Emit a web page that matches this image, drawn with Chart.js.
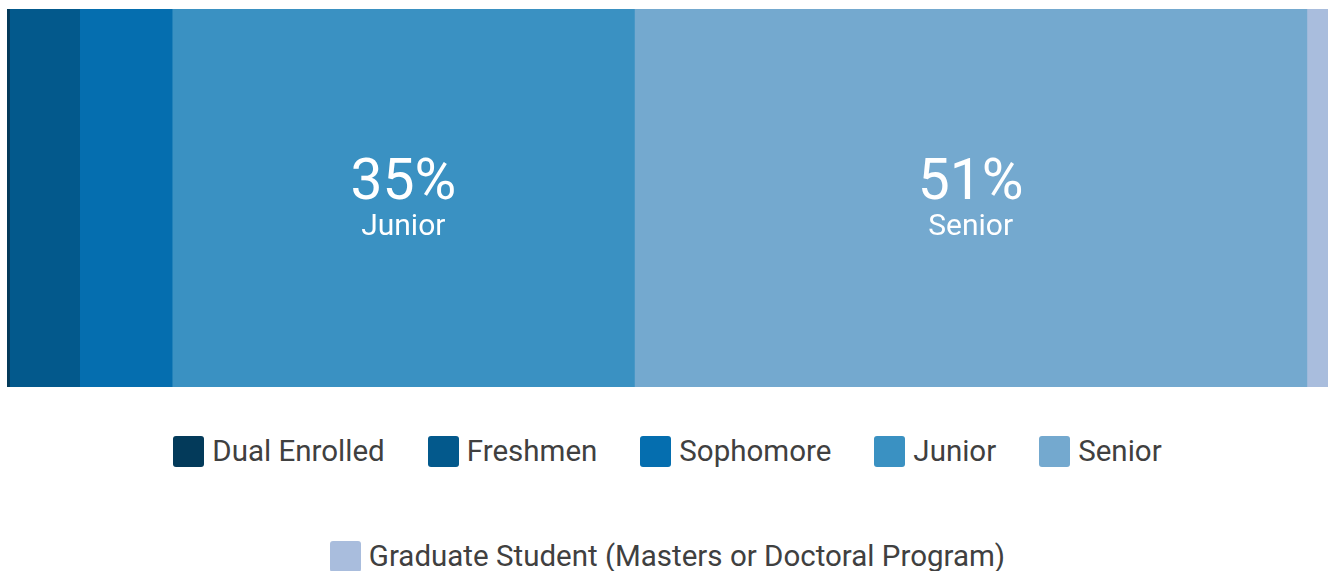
<!DOCTYPE html>
<html>
<head>
<meta charset="utf-8">
<script src="https://cdn.jsdelivr.net/npm/chart.js@4/dist/chart.umd.min.js"></script>
<style>
  html, body { margin: 0; padding: 0; background: #fff; }
  #wrap { position: relative; width: 1328px; height: 571px; overflow: hidden; }
  #chartBox { position: absolute; left: 0; top: 0; width: 1328px; height: 387px; }
  #legend {
    position: absolute; left: 7px; top: 436px; width: 1321px;
    display: flex; flex-wrap: wrap; justify-content: center;
    column-gap: 43px; row-gap: 74px;
    font-family: Roboto, sans-serif; font-size: 29.5px; color: #404040;
  }
  .item { display: flex; align-items: center; height: 31px; line-height: 31px; white-space: nowrap; }
  .swatch { width: 31px; height: 31px; border-radius: 3px; margin-right: 8px; }
</style>
</head>
<body>
<div id="wrap">
  <div id="chartBox"><canvas id="classChart"></canvas></div>
  <div id="legend"></div>
</div>
<script>
// class standing, share of respondents (%)
const categories = ['Dual Enrolled', 'Freshmen', 'Sophomore', 'Junior', 'Senior', 'Graduate Student (Masters or Doctoral Program)'];
const shortNames = ['Dual Enrolled', 'Freshmen', 'Sophomore', 'Junior', 'Senior', 'Graduate Student'];
const shares = [0.2, 5.3, 7.0, 35.0, 50.9, 1.6];
const colors = ['#033a5a', '#03598c', '#056eaf', '#3a91c2', '#74a9cf', '#a9bddd'];

const datasets = categories.map((name, i) => ({
    label: name,
    data: [shares[i]],
    backgroundColor: colors[i],
    borderWidth: 0,
    barPercentage: 1,
    categoryPercentage: 1
}));

// percentage + name written inside the big segments
const segmentLabels = {
    id: 'segmentLabels',
    afterDatasetsDraw(chart) {
        const ctx = chart.ctx;
        chart.data.datasets.forEach((ds, i) => {
            const v = ds.data[0];
            if (v < 10) return;
            const bar = chart.getDatasetMeta(i).data[0];
            const cx = (bar.x + bar.base) / 2;
            const cy = bar.y;
            ctx.save();
            ctx.fillStyle = '#ffffff';
            ctx.textAlign = 'center';
            ctx.textBaseline = 'middle';
            ctx.font = '57px Roboto, sans-serif';
            ctx.fillText(Math.round(v) + '%', cx, cy - 13);
            ctx.font = '30px Roboto, sans-serif';
            ctx.fillText(shortNames[i], cx, cy + 29);
            ctx.restore();
        });
    }
};

const chart = new Chart(document.getElementById('classChart'), {
    type: 'bar',
    data: { labels: [''], datasets: datasets },
    options: {
        indexAxis: 'y',
        responsive: true,
        maintainAspectRatio: false,
        animation: false,
        layout: { padding: { left: 7, top: 9, right: 0, bottom: 0 } },
        scales: {
            x: { stacked: true, min: 0, max: 100, display: false },
            y: { stacked: true, display: false }
        },
        plugins: {
            legend: { display: false },
            tooltip: { enabled: false }
        }
    },
    plugins: [segmentLabels]
});

// html legend built from the chart's datasets
const legendEl = document.getElementById('legend');
chart.data.datasets.forEach(ds => {
    const item = document.createElement('div');
    item.className = 'item';
    const sw = document.createElement('span');
    sw.className = 'swatch';
    sw.style.background = ds.backgroundColor;
    const txt = document.createElement('span');
    txt.textContent = ds.label;
    item.appendChild(sw);
    item.appendChild(txt);
    legendEl.appendChild(item);
});
</script>
</body>
</html>
